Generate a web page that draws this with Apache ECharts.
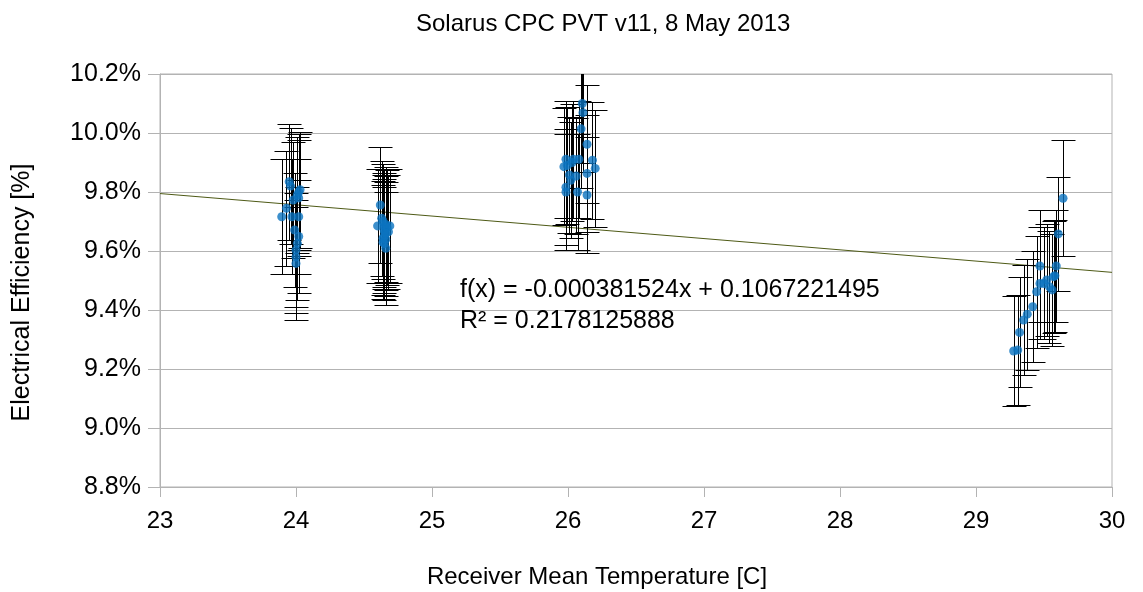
<!DOCTYPE html>
<html>
<head>
<meta charset="utf-8">
<title>Solarus CPC PVT v11, 8 May 2013</title>
<script src="https://cdn.jsdelivr.net/npm/echarts@6/dist/echarts.min.js"></script>
<style>
  html, body { margin: 0; padding: 0; background: #fff; }
  #chart { width: 1143px; height: 592px; }
</style>
</head>
<body>
<div id="chart"></div>
<script>
// Receiver mean temperature [C] for each measurement
const receiverTemp = [
  // morning run near 24 C
  23.895, 23.93, 23.95, 23.96, 23.97, 23.98, 23.99, 24.00, 24.00, 24.00,
  24.01, 24.02, 24.02, 24.02, 24.02, 24.03, 24.01,
  // run near 24.65 C
  24.60, 24.62, 24.63, 24.64, 24.65, 24.65, 24.65, 24.66, 24.66, 24.67,
  24.68, 24.69, 24.64, 24.65, 24.66, 24.65, 24.64, 24.66,
  // midday run near 26 C
  26.105, 26.11, 26.096, 26.14, 25.985, 26.04, 26.08, 26.18, 25.97, 25.995,
  26.20, 26.14, 26.06, 26.01, 25.985, 25.985, 26.07, 26.14, 26.03, 26.02,
  // afternoon run near 29.5 C
  29.277, 29.307, 29.32, 29.35, 29.377, 29.417, 29.446, 29.47, 29.47, 29.50,
  29.52, 29.54, 29.56, 29.57, 29.58, 29.59, 29.605, 29.64
];

// Electrical efficiency [%] for the same measurements
const electricalEff = [
  9.716, 9.745, 9.835, 9.820, 9.716, 9.773, 9.671, 9.603, 9.580, 9.558,
  9.626, 9.716, 9.800, 9.780, 9.649, 9.808, 9.790,
  9.685, 9.756, 9.711, 9.643, 9.670, 9.685, 9.665, 9.609, 9.690, 9.680,
  9.665, 9.685, 9.630, 9.650, 9.640, 9.625, 9.700, 9.660,
  10.100, 10.069, 10.014, 9.962, 9.911, 9.911, 9.911, 9.908, 9.886, 9.890,
  9.880, 9.863, 9.854, 9.858, 9.816, 9.800, 9.800, 9.790, 9.900, 9.840,
  9.261, 9.264, 9.324, 9.366, 9.386, 9.411, 9.462, 9.490, 9.549, 9.490,
  9.502, 9.479, 9.468, 9.513, 9.516, 9.549, 9.658, 9.779
];

// Relative measurement uncertainty of each efficiency value
const relativeError = 0.02;

// Linear regression reported on the chart
const trendSlope = -0.000381524;
const trendIntercept = 0.1067221495;
const trendR2 = 0.2178125888;

// Axis ranges and steps
const tempRange = [23, 30, 1];
const effRange = [8.8, 10.2, 0.2];

const points = receiverTemp.map((t, i) => [t, electricalEff[i]]);
const errorBars = receiverTemp.map((t, i) => {
  const v = electricalEff[i];
  return [t, v, v * (1 - relativeError), v * (1 + relativeError)];
});
const trendLine = [tempRange[0], tempRange[1]].map(t => [t, (trendSlope * t + trendIntercept) * 100]);

const FONT = '"Liberation Sans", Arial, sans-serif';
const chart = echarts.init(document.getElementById('chart'), null, { renderer: 'canvas' });

chart.setOption({
  animation: false,
  backgroundColor: '#ffffff',
  title: {
    text: 'Solarus CPC PVT v11, 8 May 2013',
    left: 411,
    top: 7,
    textStyle: { fontFamily: FONT, fontSize: 24, fontWeight: 'normal', color: '#000' }
  },
  grid: {
    left: 160, right: 31, top: 74, bottom: 105,
    outerBoundsMode: 'none',
    containLabel: false,
    show: true, borderColor: '#b3b3b3', borderWidth: 1, backgroundColor: 'transparent'
  },
  xAxis: {
    type: 'value',
    min: tempRange[0], max: tempRange[1], interval: tempRange[2],
    name: 'Receiver Mean Temperature [C]',
    nameLocation: 'middle', nameGap: 78,
    nameTextStyle: { fontFamily: FONT, fontSize: 24, color: '#000', padding: [0, 78, 0, 0] },
    axisLine: { show: true, lineStyle: { color: '#b3b3b3', width: 1 } },
    axisTick: { show: true, length: 10, inside: false, lineStyle: { color: '#b3b3b3' } },
    axisLabel: { fontFamily: FONT, fontSize: 24, color: '#000', margin: 22 },
    splitLine: { show: false }
  },
  yAxis: {
    type: 'value',
    min: effRange[0], max: effRange[1], interval: effRange[2],
    name: 'Electrical Efficiency [%]',
    nameLocation: 'middle', nameGap: 125,
    nameTextStyle: { fontFamily: FONT, fontSize: 25, color: '#000', padding: [0, 24, 0, 0] },
    axisLine: { show: true, lineStyle: { color: '#b3b3b3', width: 1 } },
    axisTick: { show: true, length: 12, inside: false, lineStyle: { color: '#b3b3b3' } },
    axisLabel: {
      fontFamily: FONT, fontSize: 25, color: '#000', margin: 19,
      formatter: v => v.toFixed(1) + '%'
    },
    splitLine: { show: true, lineStyle: { color: '#b3b3b3', width: 1 } }
  },
  series: [
    {
      name: 'Linear trend',
      type: 'line',
      data: trendLine,
      symbol: 'none',
      lineStyle: { color: '#4e5a16', width: 1 },
      z: 2,
      silent: true
    },
    {
      name: 'Uncertainty',
      type: 'custom',
      data: errorBars,
      clip: true,
      z: 3,
      renderItem: (params, api) => {
        const x = api.value(0);
        const lo = api.coord([x, api.value(2)]);
        const hi = api.coord([x, api.value(3)]);
        const cx = Math.round(lo[0]) + 0.5;
        const yTop = Math.round(hi[1]) + 0.5;
        const yBot = Math.round(lo[1]) + 0.5;
        const half = 12;
        const st = { stroke: '#000', lineWidth: 1 };
        return {
          type: 'group',
          children: [
            { type: 'line', shape: { x1: cx, y1: yTop, x2: cx, y2: yBot }, style: st },
            { type: 'line', shape: { x1: cx - half, y1: yTop, x2: cx + half, y2: yTop }, style: st },
            { type: 'line', shape: { x1: cx - half, y1: yBot, x2: cx + half, y2: yBot }, style: st }
          ]
        };
      }
    },
    {
      name: 'Electrical efficiency',
      type: 'scatter',
      data: points,
      symbol: 'circle',
      symbolSize: 9,
      itemStyle: { color: '#0b73bf' },
      z: 4
    }
  ],
  graphic: [
    {
      type: 'text',
      left: 460, top: 278,
      style: {
        text: 'f(x) = ' + trendSlope.toFixed(9) + 'x + ' + trendIntercept.toFixed(10),
        fontFamily: FONT, fontSize: 25, fill: '#000'
      },
      z: 10
    },
    {
      type: 'text',
      left: 460, top: 309,
      style: {
        text: 'R\u00b2 = ' + trendR2.toFixed(10),
        fontFamily: FONT, fontSize: 25, fill: '#000'
      },
      z: 10
    }
  ]
});
</script>
</body>
</html>
